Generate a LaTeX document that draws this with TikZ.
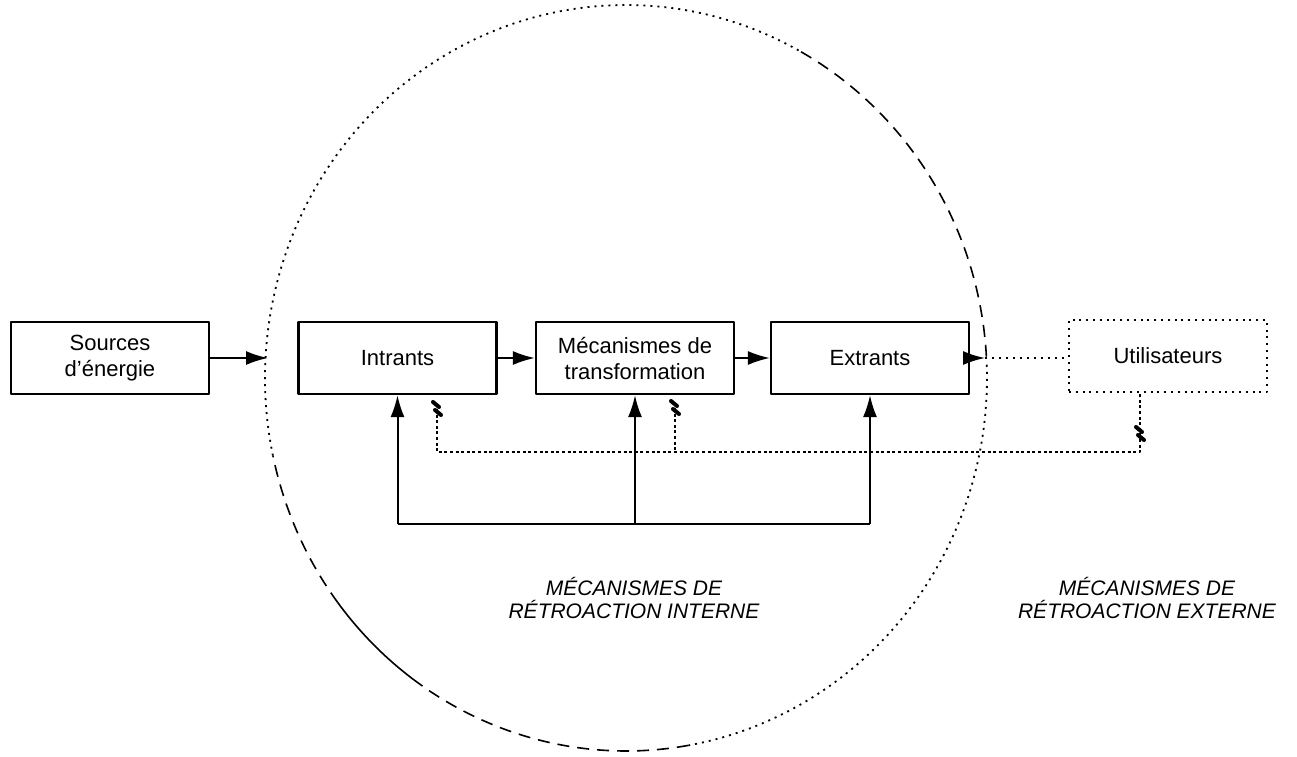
\documentclass[tikz,border=0pt]{standalone}
\usepackage{fontspec}
\setmainfont{Liberation Sans}
\usetikzlibrary{arrows.meta}
\tikzset{
  block/.style={draw, line width=1.1pt, minimum width=99pt, minimum height=36pt, align=center, inner sep=0pt},
  userblock/.style={draw, line width=0.9pt, dash pattern=on 1pt off 2.4pt, minimum width=99pt, minimum height=36pt, align=center, inner sep=0pt},
  flow/.style={line width=1pt, -{Latex[length=11pt,width=7pt]}},
  fbdot/.style={line width=0.9pt, dash pattern=on 1.5pt off 1.3pt},
  circdot/.style={line width=0.9pt, dash pattern=on 1pt off 2.5pt},
  circdash/.style={line width=0.8pt, dash pattern=on 6pt off 4pt},
  hatch/.style={line width=2pt, line cap=round},
  mechtext/.style={font=\fontsize{10.5}{11.5}\selectfont\itshape, align=center}
}
\begin{document}
\begin{tikzpicture}[x=0.5pt, y=-0.5pt, font=\fontsize{11}{13}\selectfont,
		line join=round, >=stealth]
		\def\cx{626}
		\def\cy{378}
		\def\rx{361}
		\def\ry{373}
		\useasboundingbox (0,0) rectangle (1297,756);
		% frontiere du systeme
		\draw[circdot] plot[smooth, samples=80, domain=168:299] ({\cx+\rx*cos(\x)},{\cy+\ry*sin(\x)});
		\draw[circdash] plot[smooth, samples=40, domain=299:358] ({\cx+\rx*cos(\x)},{\cy+\ry*sin(\x)});
		\draw[circdot] plot[smooth, samples=60, domain=-2:80] ({\cx+\rx*cos(\x)},{\cy+\ry*sin(\x)});
		\draw[circdash] plot[smooth, samples=30, domain=80:126] ({\cx+\rx*cos(\x)},{\cy+\ry*sin(\x)});
		\draw[line width=0.8pt] plot[smooth, samples=20, domain=126:143] ({\cx+\rx*cos(\x)},{\cy+\ry*sin(\x)});
		\draw[circdash] plot[smooth, samples=20, domain=143:168] ({\cx+\rx*cos(\x)},{\cy+\ry*sin(\x)});
		% blocs
		\node[block] (src) at (110,358) {Sources\\d'énergie};
		\node[block] (intr) at (397.5,358) {Intrants};
		\node[block] (meca) at (635,358) {Mécanismes de\\transformation};
		\node[block] (extr) at (870,358) {Extrants};
		\node[userblock] (util) at (1168,356) {Utilisateurs};
		\coordinate (inL) at (268,358);
		\coordinate (outR) at (985,358);
		\draw[flow] (src) -- (inL);
		\draw[flow] (intr) -- (meca);
		\draw[flow] (meca) -- (extr);
		\draw[flow] (extr) -- (outR);
		\draw[circdot] (outR) -- (util.west |- outR);
		% retroaction interne
		\coordinate (base) at (0,524);
		\foreach \n in {intr,meca,extr}
		\draw[flow] (\n.south |- base) -- (\n.south);
		\draw[line width=1pt] (intr.south |- base) -- (extr.south |- base);
		% retroaction externe
		\coordinate (fbl) at (0,452);
		\coordinate (h1) at (437,409);
		\coordinate (h2) at (675,408);
		\coordinate (h3) at (1140,434);
		\draw[fbdot] (h1) -- (h1 |- fbl) -- (h3 |- fbl) -- (h3) -- (util.south -| h3);
		\draw[fbdot] (h2) -- (h2 |- fbl);
		\foreach \h in {h1,h2,h3}
		\draw[hatch] (\h) ++(-4,-7) -- ++(6,5) (\h) ++(-2,1) -- ++(6,5);
		\node[mechtext] (intlab) at (634,598) {MÉCANISMES DE\\RÉTROACTION INTERNE};
		\node[mechtext] (extlab) at (1147,598) {MÉCANISMES DE\\RÉTROACTION EXTERNE};
\end{tikzpicture}
\end{document}
